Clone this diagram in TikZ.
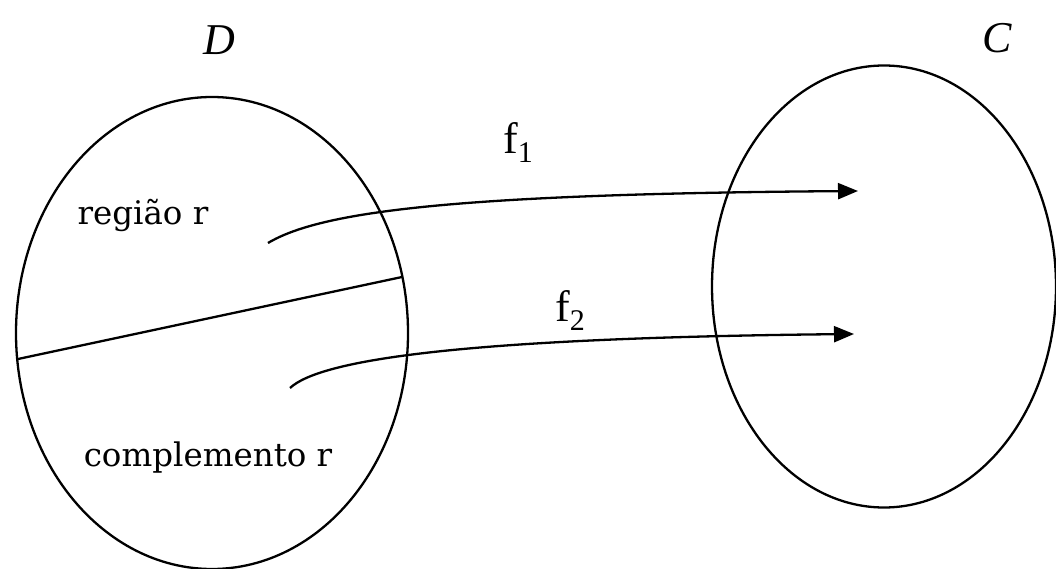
\documentclass[tikz,border=0pt]{standalone}
\usepackage{fontspec}
\setmainfont{Liberation Serif}
\newfontfamily\slabfont{DejaVu Serif}
\usetikzlibrary{shapes.geometric,arrows.meta}
\newcommand{\funcsub}[1]{\raisebox{-9pt}{\fontsize{30}{30}\selectfont #1}}
\tikzset{
  setshape/.style={draw, ellipse, line width=2.3pt, inner sep=0pt},
  maparrow/.style={line width=2.3pt, -{Triangle[length=20pt,width=16pt]}},
  regionlabel/.style={anchor=base, inner sep=0pt, font=\slabfont\fontsize{32.5}{34}\selectfont},
  funclabel/.style={anchor=base west, inner sep=0pt, font=\fontsize{44}{48}\selectfont},
  setlabel/.style={anchor=base, inner sep=0pt, font=\itshape\fontsize{44}{48}\selectfont}
}
\begin{document}
\begin{tikzpicture}[x=1pt,y=-1pt]
\useasboundingbox (0,0) rectangle (1056,569);
\node[setshape, minimum width=392pt, minimum height=472pt] (D) at (212,333) {};
\node[setshape, minimum width=344pt, minimum height=442pt] (C) at (884,286.5) {};
\node[setlabel] (Dl) at (219,55) {D};
\node[setlabel] (Cl) at (997,53) {C};
\coordinate (cutA) at (18,359);
\coordinate (cutB) at (402,277);
\draw[line width=2.3pt] (cutA) -- (cutB);
\node[regionlabel] (reg) at (143,225) {região r};
\node[regionlabel] (comp) at (208,466) {complemento r};
\coordinate (s1) at (268,243);
\coordinate (e1) at (858,191);
\coordinate (s2) at (290,388);
\coordinate (e2) at (854,334);
\draw[maparrow] (s1) .. controls (320,212) and (450,194) .. (e1);
\draw[maparrow] (s2) .. controls (320,360) and (460,338) .. (e2);
\node[funclabel] (f1) at (503,154) {f\funcsub{1}};
\node[funclabel] (f2) at (555,321) {f\funcsub{2}};
\end{tikzpicture}
\end{document}
